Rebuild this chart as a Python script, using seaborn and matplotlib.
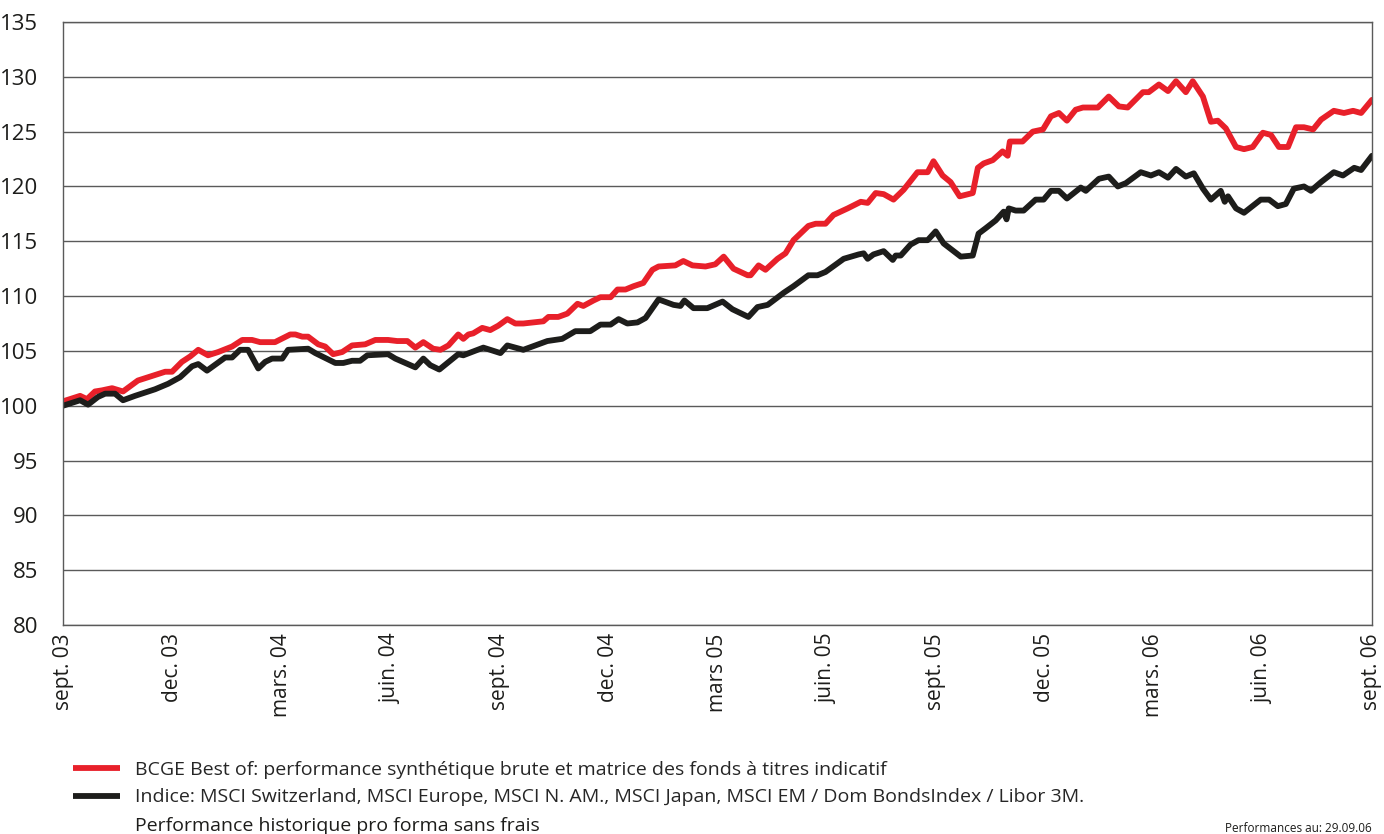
import matplotlib
matplotlib.use("Agg")
import matplotlib.pyplot as plt
import pandas as pd
import seaborn as sns

# months since end of Sept 2003
bcge_months = [
    0.00, 0.47, 0.66, 0.88, 1.07, 1.35, 1.65, 2.06, 2.81, 3.00, 3.27, 3.50, 3.72, 3.99,
    4.27, 4.65, 4.93, 5.20, 5.42, 5.83, 6.25, 6.39, 6.58, 6.74, 7.02, 7.21, 7.43, 7.68,
    7.95, 8.31, 8.59, 8.94, 9.19, 9.47, 9.69, 9.91, 10.18, 10.38, 10.60, 10.87, 11.01,
    11.15, 11.28, 11.53, 11.75, 11.97, 12.22, 12.44, 12.66, 12.94, 13.21, 13.35, 13.62,
    13.87, 14.15, 14.31, 14.59, 14.78, 15.06, 15.25, 15.47, 15.69, 15.96, 16.21, 16.38,
    16.84, 17.06, 17.31, 17.67, 17.94, 18.17, 18.44, 18.83, 18.91, 19.13, 19.32, 19.65,
    19.87, 20.09, 20.50, 20.70, 20.97, 21.19, 21.58, 21.94, 22.13, 22.35, 22.57, 22.84,
    23.12, 23.50, 23.78, 23.94, 24.19, 24.41, 24.66, 25.02, 25.16, 25.32, 25.57, 25.84,
    25.98, 26.04, 26.39, 26.67, 26.95, 27.17, 27.39, 27.61, 27.85, 28.05, 28.46, 28.76,
    29.04, 29.28, 29.70, 29.86, 30.14, 30.39, 30.61, 30.88, 31.07, 31.35, 31.57, 31.76,
    31.98, 32.26, 32.48, 32.72, 33.00, 33.22, 33.44, 33.69, 33.91, 34.13, 34.38, 34.60,
    34.95, 35.23, 35.48, 35.70, 36.00,
]
bcge_values = [
    100.4, 100.9, 100.6, 101.3, 101.4, 101.6, 101.3, 102.3, 103.1, 103.1, 104.0, 104.5, 105.1, 104.6,
    104.9, 105.4, 106.0, 106.0, 105.8, 105.8, 106.5, 106.5, 106.3, 106.3, 105.6, 105.4, 104.7, 104.9,
    105.5, 105.6, 106.0, 106.0, 105.9, 105.9, 105.3, 105.8, 105.2, 105.1, 105.5, 106.5, 106.1,
    106.5, 106.6, 107.1, 106.9, 107.3, 107.9, 107.5, 107.5, 107.6, 107.7, 108.1, 108.1,
    108.4, 109.3, 109.1, 109.6, 109.9, 109.9, 110.6, 110.6, 110.9, 111.2, 112.4, 112.7,
    112.8, 113.2, 112.8, 112.7, 112.9, 113.6, 112.5, 111.9, 111.9, 112.8, 112.4, 113.4,
    113.9, 115.1, 116.4, 116.6, 116.6, 117.4, 118.0, 118.6, 118.5, 119.4, 119.3, 118.8,
    119.7, 121.3, 121.3, 122.3, 121.0, 120.4, 119.1, 119.4, 121.7, 122.1, 122.4, 123.2,
    122.8, 124.1, 124.1, 125.0, 125.2, 126.4, 126.7, 126.0, 127.0, 127.2, 127.2, 128.2,
    127.3, 127.2, 128.6, 128.6, 129.3, 128.7, 129.6, 128.6, 129.6, 128.2, 125.9, 126.0,
    125.3, 123.6, 123.4, 123.6, 124.9, 124.7, 123.6, 123.6, 125.4, 125.4, 125.2, 126.1,
    126.9, 126.7, 126.9, 126.7, 127.9,
]

index_months = [
    0.00, 0.47, 0.69, 0.96, 1.16, 1.43, 1.65, 1.98, 2.53, 2.89, 3.22, 3.55, 3.72, 3.96,
    4.46, 4.65, 4.87, 5.09, 5.37, 5.56, 5.75, 6.03, 6.19, 6.74, 6.94, 7.49, 7.71, 7.95,
    8.17, 8.37, 8.94, 9.14, 9.69, 9.91, 10.10, 10.35, 10.87, 11.01, 11.56, 12.03, 12.22,
    12.66, 13.32, 13.73, 14.09, 14.50, 14.78, 15.06, 15.28, 15.52, 15.80, 16.02, 16.38,
    16.79, 16.98, 17.09, 17.34, 17.72, 18.14, 18.41, 18.85, 19.10, 19.38, 19.82, 20.09,
    20.50, 20.75, 20.97, 21.30, 21.47, 21.88, 22.02, 22.13, 22.29, 22.57, 22.82, 22.90,
    23.04, 23.31, 23.53, 23.78, 24.00, 24.22, 24.69, 25.02, 25.18, 25.38, 25.65, 25.87,
    25.95, 26.01, 26.20, 26.42, 26.75, 26.97, 27.17, 27.39, 27.61, 27.99, 28.13, 28.49,
    28.76, 29.01, 29.23, 29.64, 29.92, 30.14, 30.39, 30.61, 30.88, 31.10, 31.35, 31.57,
    31.84, 31.95, 32.04, 32.26, 32.48, 32.94, 33.17, 33.41, 33.63, 33.85, 34.13, 34.32,
    34.60, 34.95, 35.20, 35.51, 35.70, 36.00,
]
index_values = [
    100.0, 100.5, 100.1, 100.8, 101.1, 101.1, 100.5, 100.9, 101.5, 102.0, 102.6, 103.6, 103.8, 103.2,
    104.4, 104.4, 105.1, 105.1, 103.4, 104.0, 104.3, 104.3, 105.1, 105.2, 104.8, 103.9, 103.9, 104.1,
    104.1, 104.6, 104.7, 104.3, 103.5, 104.3, 103.7, 103.3, 104.7, 104.6, 105.3, 104.8, 105.5,
    105.1, 105.9, 106.1, 106.8, 106.8, 107.4, 107.4, 107.9, 107.5, 107.6, 108.0, 109.7,
    109.2, 109.1, 109.6, 108.9, 108.9, 109.5, 108.8, 108.1, 109.0, 109.2, 110.3, 110.9,
    111.9, 111.9, 112.2, 113.0, 113.4, 113.8, 113.9, 113.4, 113.8, 114.1, 113.3, 113.7,
    113.7, 114.7, 115.1, 115.1, 115.9, 114.8, 113.6, 113.7, 115.7, 116.2, 116.9, 117.7,
    117.0, 118.0, 117.8, 117.8, 118.8, 118.8, 119.6, 119.6, 118.9, 119.9, 119.6, 120.7,
    120.9, 120.0, 120.3, 121.3, 121.0, 121.3, 120.8, 121.6, 120.9, 121.2, 119.8, 118.8,
    119.6, 118.6, 119.1, 118.0, 117.6, 118.8, 118.8, 118.2, 118.4, 119.8, 120.0, 119.6,
    120.4, 121.3, 121.0, 121.7, 121.5, 122.8,
]

tick_months = [0, 3, 6, 9, 12, 15, 18, 21, 24, 27, 30, 33, 36]
tick_labels = ["sept. 03", "dec. 03", "mars. 04", "juin. 04", "sept. 04", "dec. 04",
               "mars 05", "juin. 05", "sept. 05", "dec. 05", "mars. 06", "juin. 06", "sept. 06"]

label_bcge = "BCGE Best of: performance synthétique brute et matrice des fonds à titres indicatif"
label_index = ("Indice: MSCI Switzerland, MSCI Europe, MSCI N. AM., MSCI Japan, "
               "MSCI EM / Dom BondsIndex / Libor 3M.")

df = pd.concat([
    pd.DataFrame({"month": bcge_months, "value": bcge_values, "series": label_bcge}),
    pd.DataFrame({"month": index_months, "value": index_values, "series": label_index}),
])

sns.set_theme(style="white")
plt.rcParams["font.family"] = ["Open Sans", "DejaVu Sans"]

RED = "#e8202a"
BLACK = "#1d1d1b"
GRID = "#5a5a5a"

fig = plt.figure(figsize=(13.84, 8.34), dpi=100)
ax = fig.add_axes([63 / 1384, 1 - 625 / 834, (1372 - 63) / 1384, (625 - 22) / 834])

sns.lineplot(data=df, x="month", y="value", hue="series",
             palette={label_bcge: RED, label_index: BLACK},
             linewidth=4.2, ax=ax, legend=False, sort=False)

ax.set_xlim(0, 36)
ax.set_ylim(80, 135)
ax.set_yticks(range(80, 136, 5))
ax.set_xticks(tick_months)
ax.set_xticklabels(tick_labels, rotation=90, fontsize=15, color="#1d1d1b")
ax.tick_params(axis="y", labelsize=16, labelcolor="#1d1d1b", length=0, pad=18)
ax.tick_params(axis="x", length=0, pad=6)
ax.set_xlabel("")
ax.set_ylabel("")
ax.yaxis.grid(True, color=GRID, linewidth=1)
ax.xaxis.grid(False)
for side in ["left", "right", "top", "bottom"]:
    ax.spines[side].set_visible(True)
    ax.spines[side].set_color(GRID)
    ax.spines[side].set_linewidth(1)

# legend below the chart (flat line ends like the print original)
handles = [plt.Line2D([], [], color=RED, linewidth=4.2, solid_capstyle="butt"),
           plt.Line2D([], [], color=BLACK, linewidth=4.2, solid_capstyle="butt")]
fig.legend(handles, [label_bcge, label_index], loc="upper left",
           bbox_to_anchor=(73 / 1384, 1 - 761 / 834), frameon=False,
           fontsize=14, handlelength=2.4, handletextpad=0.8, labelspacing=0.48,
           borderpad=0, borderaxespad=0)
fig.text(135 / 1384, 1 - 826 / 834, "Performance historique pro forma sans frais",
         fontsize=14, color="#1d1d1b", va="center", ha="left")
fig.text(1372 / 1384, 1 - 828 / 834, "Performances au: 29.09.06",
         fontsize=8.5, color="#1d1d1b", va="center", ha="right")

fig.savefig("out.png", dpi=100)
